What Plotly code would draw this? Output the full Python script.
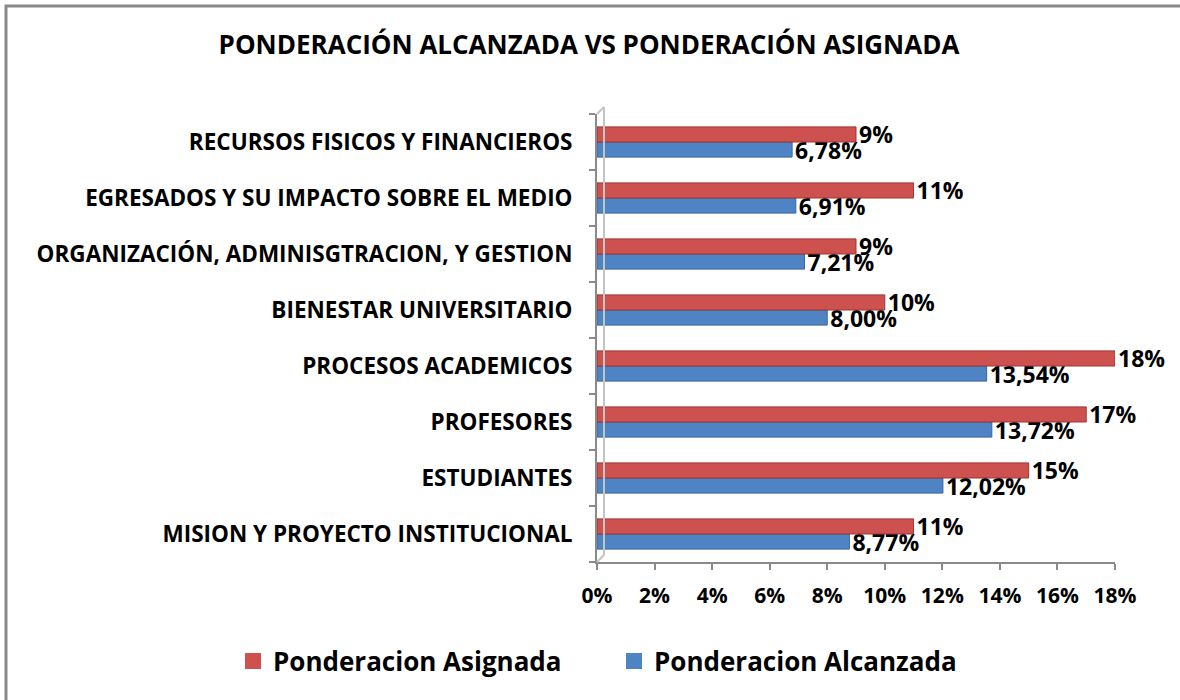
import plotly.graph_objects as go

categories = [
    "MISION Y PROYECTO INSTITUCIONAL",
    "ESTUDIANTES",
    "PROFESORES",
    "PROCESOS ACADEMICOS",
    "BIENESTAR UNIVERSITARIO",
    "ORGANIZACIÓN, ADMINISGTRACION, Y GESTION",
    "EGRESADOS Y SU IMPACTO SOBRE EL MEDIO",
    "RECURSOS FISICOS Y FINANCIEROS",
]
alcanzada = [8.77, 12.02, 13.72, 13.54, 8.00, 7.21, 6.91, 6.78]
asignada = [11, 15, 17, 18, 10, 9, 11, 9]
x_ticks = [0, 2, 4, 6, 8, 10, 12, 14, 16, 18]
x_tick_text = [f"{v}%" for v in x_ticks]

RED = "#CD514E"
BLUE = "#4F84C4"
GRAY = "#8A8A8A"
FONT = "Open Sans"

W, H = 1180, 700
L, R, T, B = 597, 65, 114, 138
PW, PH = W - L - R, H - T - B


def px_x(p):
    return (p - L) / PW


def px_y(p):
    return (H - B - p) / PH


fig = go.Figure()
fig.add_trace(go.Bar(
    y=categories, x=alcanzada, orientation="h", name="Ponderacion Alcanzada",
    marker=dict(color=BLUE, line=dict(color="#3A65A0", width=1)),
    texttemplate="%{x:.2f}%", textposition="outside", constraintext="none",
    textfont=dict(family=FONT, size=23, color="black", weight="bold"),
    cliponaxis=False, showlegend=False,
))
fig.add_trace(go.Bar(
    y=categories, x=asignada, orientation="h", name="Ponderacion Asignada",
    marker=dict(color=RED, line=dict(color="#9C3633", width=1)),
    texttemplate="%{x:.0f}%", textposition="outside", constraintext="none",
    textfont=dict(family=FONT, size=23, color="black", weight="bold"),
    cliponaxis=False, showlegend=False,
))
# legend proxies (empty)
fig.add_trace(go.Scatter(x=[None], y=[None], mode="markers", name="Ponderacion Asignada",
                         marker=dict(symbol="square", size=16, color=RED)))
fig.add_trace(go.Scatter(x=[None], y=[None], mode="markers", name="Ponderacion Alcanzada",
                         marker=dict(symbol="square", size=16, color=BLUE)))

shapes = [
    # outer frame (partly off-canvas)
    dict(type="rect", xref="paper", yref="paper",
         x0=px_x(6), x1=px_x(1200), y0=px_y(720), y1=px_y(6),
         line=dict(color=GRAY, width=3), fillcolor="rgba(0,0,0,0)", layer="below"),
    # 3D wall hints
    dict(type="line", xref="paper", yref="paper",
         x0=px_x(604), x1=px_x(604), y0=px_y(555), y1=px_y(107),
         line=dict(color="#C4C4C4", width=2)),
    dict(type="line", xref="paper", yref="paper",
         x0=px_x(597), x1=px_x(604), y0=px_y(114), y1=px_y(107),
         line=dict(color="#C4C4C4", width=2)),
    dict(type="line", xref="paper", yref="paper",
         x0=px_x(597), x1=px_x(604), y0=px_y(562), y1=px_y(555),
         line=dict(color="#C4C4C4", width=2)),
]

fig.update_layout(
    width=W, height=H,
    margin=dict(l=L, r=R, t=T, b=B, autoexpand=False),
    paper_bgcolor="white", plot_bgcolor="white",
    separators=",.",
    barmode="group", bargap=0.46, bargroupgap=0.0,
    title=dict(text="<b>PONDERACIÓN ALCANZADA VS PONDERACIÓN ASIGNADA</b>",
               x=589 / W, xref="container", xanchor="center",
               y=1 - 45 / H, yref="container", yanchor="middle",
               font=dict(family=FONT, size=26, color="black")),
    showlegend=True,
    legend=dict(orientation="h", xref="paper", yref="paper",
                x=px_x(233), xanchor="left", y=px_y(661), yanchor="middle",
                font=dict(family=FONT, size=26, color="black", weight="bold"),
                traceorder="normal", itemclick=False,
                entrywidth=336, entrywidthmode="pixels"),
    shapes=shapes,
    font=dict(family=FONT, color="black"),
)
fig.update_xaxes(
    range=[0, 18], tickvals=x_ticks, ticktext=x_tick_text,
    showgrid=False, zeroline=False, automargin=False,
    showline=True, linecolor=GRAY, linewidth=2,
    ticks="outside", ticklen=6, tickcolor=GRAY, tickwidth=2,
    tickfont=dict(family=FONT, size=21, color="black", weight="bold"),
    ticklabelstandoff=8,
)
fig.update_yaxes(
    categoryorder="array", categoryarray=categories,
    showgrid=False, zeroline=False, automargin=False,
    showline=True, linecolor=GRAY, linewidth=2,
    ticks="outside", ticklen=6, tickcolor=GRAY, tickwidth=2, tickson="boundaries",
    tickfont=dict(family=FONT, size=22.5, color="black", weight="bold"),
    ticklabelstandoff=18,
)

fig.write_html("out.html", config={"displayModeBar": False},
               post_script="document.body.style.margin='0';")
